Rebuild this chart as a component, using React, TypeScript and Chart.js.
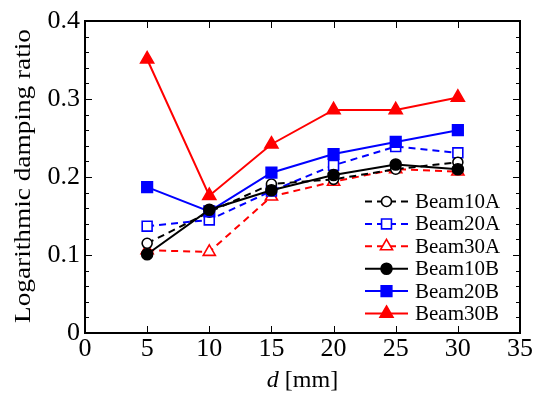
import React, { useEffect, useRef } from "react";
import { Chart, registerables } from "chart.js";

Chart.register(...registerables);

const dValues = [5, 10, 15, 20, 25, 30];
const beam10A = [0.115, 0.155, 0.191, 0.197, 0.21, 0.219];
const beam20A = [0.137, 0.145, 0.182, 0.215, 0.239, 0.231];
const beam30A = [0.106, 0.104, 0.175, 0.194, 0.21, 0.207];
const beam10B = [0.101, 0.158, 0.183, 0.2025, 0.216, 0.21];
const beam20B = [0.187, 0.156, 0.2055, 0.2295, 0.245, 0.26];
const beam30B = [0.351, 0.176, 0.242, 0.286, 0.286, 0.302];

const seriesNames = ["Beam10A", "Beam20A", "Beam30A", "Beam10B", "Beam20B", "Beam30B"];
const xTickValues = [0, 5, 10, 15, 20, 25, 30, 35];
const yTickValues = [0, 0.1, 0.2, 0.3, 0.4];

const FONT = "'Liberation Serif', 'Times New Roman', Times, 'DejaVu Serif', serif";

type Style = { color: string; shape: string; filled: boolean; dashed: boolean; radius: number };
const styles: Style[] = [
  { color: "#000000", shape: "circle", filled: false, dashed: true, radius: 5 },
  { color: "#0000ff", shape: "rect", filled: false, dashed: true, radius: 7 },
  { color: "#ff0000", shape: "triangle", filled: false, dashed: true, radius: 7 },
  { color: "#000000", shape: "circle", filled: true, dashed: false, radius: 5.5 },
  { color: "#0000ff", shape: "rect", filled: true, dashed: false, radius: 7.5 },
  { color: "#ff0000", shape: "triangle", filled: true, dashed: false, radius: 7.5 },
];

function drawMarker(ctx: CanvasRenderingContext2D, s: Style, x: number, y: number) {
  ctx.save();
  ctx.beginPath();
  ctx.setLineDash([]);
  ctx.lineWidth = 1.6;
  ctx.strokeStyle = s.color;
  ctx.fillStyle = s.filled ? s.color : "#ffffff";
  const r = s.radius;
  if (s.shape === "circle") {
    ctx.arc(x, y, r, 0, Math.PI * 2);
  } else if (s.shape === "rect") {
    const h = r / Math.SQRT2;
    ctx.rect(x - h, y - h, 2 * h, 2 * h);
  } else {
    let rad = 0;
    ctx.moveTo(x + Math.sin(rad) * r, y - Math.cos(rad) * r);
    rad += (2 * Math.PI) / 3;
    ctx.lineTo(x + Math.sin(rad) * r, y - Math.cos(rad) * r);
    rad += (2 * Math.PI) / 3;
    ctx.lineTo(x + Math.sin(rad) * r, y - Math.cos(rad) * r);
    ctx.closePath();
  }
  ctx.fill();
  ctx.stroke();
  ctx.restore();
}

const framePlugin = {
  id: "frameTicks",
  afterDraw(chart: any) {
    const ctx: CanvasRenderingContext2D = chart.ctx;
    const { left, right, top, bottom } = chart.chartArea;
    const xs = chart.scales.x;
    const ys = chart.scales.y;
    ctx.save();
    ctx.strokeStyle = "#000";
    ctx.setLineDash([]);
    ctx.lineWidth = 1;
    ctx.beginPath();
    for (const v of xTickValues) {
      const px = Math.round(xs.getPixelForValue(v)) + 0.5;
      ctx.moveTo(px, bottom);
      ctx.lineTo(px, bottom - 7);
      ctx.moveTo(px, top);
      ctx.lineTo(px, top + 7);
    }
    for (let i = 0; i <= 20; i++) {
      const v = i * 0.02;
      const major = i % 5 === 0;
      const len = major ? 7 : 4;
      const py = Math.round(ys.getPixelForValue(v)) + 0.5;
      ctx.moveTo(left, py);
      ctx.lineTo(left + len, py);
      ctx.moveTo(right, py);
      ctx.lineTo(right - len, py);
    }
    ctx.stroke();
    ctx.lineWidth = 2;
    ctx.strokeRect(left, top, right - left, bottom - top);

    // axis titles
    ctx.fillStyle = "#000";
    ctx.textBaseline = "middle";
    ctx.textAlign = "center";
    ctx.save();
    ctx.translate(24, (top + bottom) / 2 - 1);
    ctx.rotate(-Math.PI / 2);
    ctx.font = `24px ${FONT}`;
    const tw = ctx.measureText("Logarithmic damping ratio").width;
    const sx = 294 / tw;
    ctx.scale(sx, 1);
    ctx.fillText("Logarithmic damping ratio", 0, 0);
    ctx.restore();

    const italicD = "d";
    const rest = " [mm]";
    ctx.font = `italic 24px ${FONT}`;
    const w1 = ctx.measureText(italicD).width;
    ctx.font = `24px ${FONT}`;
    const w2 = ctx.measureText(rest).width;
    const cx = (left + right) / 2;
    const startX = cx - (w1 + w2) / 2;
    ctx.textAlign = "left";
    ctx.font = `italic 24px ${FONT}`;
    ctx.fillText(italicD, startX, 381);
    ctx.font = `24px ${FONT}`;
    ctx.fillText(rest, startX + w1, 381);

    // legend
    const lx0 = 365;
    const lx1 = 408;
    const ly0 = 201.5;
    const dy = 22.4;
    ctx.font = `21px ${FONT}`;
    ctx.textAlign = "left";
    ctx.textBaseline = "middle";
    styles.forEach((s, i) => {
      const y = ly0 + i * dy;
      ctx.save();
      ctx.strokeStyle = s.color;
      ctx.lineWidth = 2;
      ctx.setLineDash(s.dashed ? [7, 5] : []);
      ctx.beginPath();
      ctx.moveTo(lx0, y);
      ctx.lineTo(lx1, y);
      ctx.stroke();
      ctx.restore();
      drawMarker(ctx, s, (lx0 + lx1) / 2, y);
      ctx.fillStyle = "#000";
      ctx.fillText(seriesNames[i], 415, y + 1);
    });
    ctx.restore();
  },
};

const allSeries = [beam10A, beam20A, beam30A, beam10B, beam20B, beam30B];

export default function App() {
  const ref = useRef<HTMLCanvasElement>(null);
  useEffect(() => {
    document.body.style.margin = "0";
    const canvas = ref.current!;
    let chart: any = null;
    let cancelled = false;
    const build = () => {
      if (cancelled) return;
      const datasets = allSeries.map((arr, i) => {
        const s = styles[i];
        return {
          label: seriesNames[i],
          data: arr.map((v, j) => ({ x: dValues[j], y: v })),
          borderColor: s.color,
          backgroundColor: s.filled ? s.color : "#ffffff",
          pointBorderColor: s.color,
          pointBackgroundColor: s.filled ? s.color : "#ffffff",
          pointStyle: s.shape,
          pointRadius: s.radius,
          pointBorderWidth: 1.6,
          borderWidth: 2,
          borderDash: s.dashed ? [7, 5] : [],
          tension: 0,
          fill: false,
          order: s.filled ? 1 : 2,
        };
      });
      chart = new Chart(canvas, {
        type: "line",
        data: { datasets: datasets as any },
        options: {
          responsive: false,
          animation: false,
          layout: { padding: { left: 0, right: 22, top: 21, bottom: 0 } },
          plugins: { legend: { display: false }, tooltip: { enabled: false } },
          scales: {
            x: {
              type: "linear",
              min: 0,
              max: 35,
              afterFit: (scale: any) => {
                scale.height = 63;
              },
              afterBuildTicks: (scale: any) => {
                scale.ticks = xTickValues.map((v) => ({ value: v }));
              },
              grid: { display: false, drawTicks: false },
              border: { display: false },
              ticks: {
                padding: 1,
                color: "#000",
                font: { family: FONT, size: 26 },
                callback: (v: any) => String(v),
                maxRotation: 0,
              },
            },
            y: {
              type: "linear",
              min: 0,
              max: 0.4,
              afterFit: (scale: any) => {
                scale.width = 85;
              },
              afterBuildTicks: (scale: any) => {
                scale.ticks = yTickValues.map((v) => ({ value: v }));
              },
              grid: { display: false, drawTicks: false },
              border: { display: false },
              ticks: {
                padding: 5,
                color: "#000",
                font: { family: FONT, size: 26 },
                callback: (v: any) => (v === 0 ? "0" : Number(v).toFixed(1)),
              },
            },
          },
        },
        plugins: [framePlugin],
      });
    };
    const fontsApi: any = (document as any).fonts;
    if (fontsApi && fontsApi.load) {
      Promise.all([
        fontsApi.load("26px 'Liberation Serif'"),
        fontsApi.load("italic 24px 'Liberation Serif'"),
      ])
        .catch(() => null)
        .then(build);
    } else {
      build();
    }
    return () => {
      cancelled = true;
      if (chart) chart.destroy();
    };
  }, []);
  return (
    <div style={{ width: 542, height: 396, background: "#fff" }}>
      <canvas ref={ref} width={542} height={396} />
    </div>
  );
}
